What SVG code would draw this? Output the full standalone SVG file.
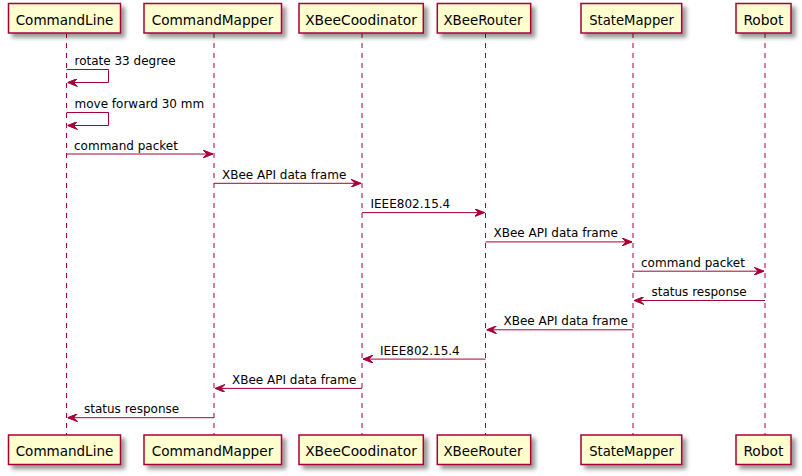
<svg xmlns="http://www.w3.org/2000/svg" width="802" height="476" viewBox="0 0 802 476">
<style>
.box{fill:#FEFECE;stroke:#A80036;stroke-width:1.5;filter:url(#sh)}
.life{stroke:#A80036;stroke-width:1;stroke-dasharray:5,5;fill:none}
.pt{font-family:"DejaVu Sans",sans-serif;font-size:13.5px;fill:#000;text-anchor:middle}
.msg{stroke:#A80036;stroke-width:1;fill:none;marker-end:url(#ah)}
.mt{font-family:"DejaVu Sans",sans-serif;font-size:12px;fill:#000}
</style>
<defs>
<filter id="sh" x="-10%" y="-20%" width="130%" height="160%">
<feGaussianBlur in="SourceAlpha" stdDeviation="2"/>
<feColorMatrix type="matrix" values="0 0 0 0 0 0 0 0 0 0 0 0 0 0 0 0 0 0 0.4 0"/>
<feOffset dx="4" dy="4" result="s"/>
<feMerge><feMergeNode in="s"/><feMergeNode in="SourceGraphic"/></feMerge>
</filter>
<marker id="ah" viewBox="0 0 10 8" refX="10" refY="4" markerWidth="10" markerHeight="8" markerUnits="userSpaceOnUse" orient="auto">
<path d="M0,0 L10,4 L0,8 L4,4 Z" fill="#A80036" stroke="#A80036" stroke-width="1"/>
</marker>
</defs>
<g id="CommandLine">
<line class="life" x1="66.5" y1="33" x2="66.5" y2="435"/>
<rect class="box" x="8.5" y="3.5" width="112" height="29.5"/>
<text class="pt" x="64.5" y="24.5" textLength="97.6" lengthAdjust="spacingAndGlyphs">CommandLine</text>
<rect class="box" x="8.5" y="435" width="112" height="29.5"/>
<text class="pt" x="64.5" y="456" textLength="97.6" lengthAdjust="spacingAndGlyphs">CommandLine</text>
</g>
<g id="CommandMapper">
<line class="life" x1="214" y1="33" x2="214" y2="435"/>
<rect class="box" x="144" y="3.5" width="137.5" height="29.5"/>
<text class="pt" x="212.5" y="24.5" textLength="121.6" lengthAdjust="spacingAndGlyphs">CommandMapper</text>
<rect class="box" x="144" y="435" width="137.5" height="29.5"/>
<text class="pt" x="212.5" y="456" textLength="121.6" lengthAdjust="spacingAndGlyphs">CommandMapper</text>
</g>
<g id="XBeeCoodinator">
<line class="life" x1="362" y1="33" x2="362" y2="435"/>
<rect class="box" x="299" y="3.5" width="124.3" height="29.5"/>
<text class="pt" x="361" y="24.5" textLength="111.7" lengthAdjust="spacingAndGlyphs">XBeeCoodinator</text>
<rect class="box" x="299" y="435" width="124.3" height="29.5"/>
<text class="pt" x="361" y="456" textLength="111.7" lengthAdjust="spacingAndGlyphs">XBeeCoodinator</text>
</g>
<g id="XBeeRouter">
<line class="life" x1="485.5" y1="33" x2="485.5" y2="435"/>
<rect class="box" x="437.3" y="3.5" width="93.4" height="29.5"/>
<text class="pt" x="482.9" y="24.5" textLength="79" lengthAdjust="spacingAndGlyphs">XBeeRouter</text>
<rect class="box" x="437.3" y="435" width="93.4" height="29.5"/>
<text class="pt" x="482.9" y="456" textLength="79" lengthAdjust="spacingAndGlyphs">XBeeRouter</text>
</g>
<g id="StateMapper">
<line class="life" x1="633" y1="33" x2="633" y2="435"/>
<rect class="box" x="581" y="3.5" width="100.7" height="29.5"/>
<text class="pt" x="631.5" y="24.5" textLength="84.7" lengthAdjust="spacingAndGlyphs">StateMapper</text>
<rect class="box" x="581" y="435" width="100.7" height="29.5"/>
<text class="pt" x="631.5" y="456" textLength="84.7" lengthAdjust="spacingAndGlyphs">StateMapper</text>
</g>
<g id="Robot">
<line class="life" x1="765" y1="33" x2="765" y2="435"/>
<rect class="box" x="736" y="3.5" width="55" height="29.5"/>
<text class="pt" x="763.4" y="24.5" textLength="40" lengthAdjust="spacingAndGlyphs">Robot</text>
<rect class="box" x="736" y="435" width="55" height="29.5"/>
<text class="pt" x="763.4" y="456" textLength="40" lengthAdjust="spacingAndGlyphs">Robot</text>
</g>
<g id="connectors">
<path class="msg" d="M66.5,69.5 H108.5 V82.5 H67.5"/>
<text class="mt" x="74.5" y="65">rotate 33 degree</text>
<path class="msg" d="M66.5,112.5 H108.5 V125.5 H67.5"/>
<text class="mt" x="74.5" y="108">move forward 30 mm</text>
<path class="msg" d="M66.5,154 H213"/>
<text class="mt" x="74" y="149.5">command packet</text>
<path class="msg" d="M214,183.3 H361"/>
<text class="mt" x="222" y="178.8">XBee API data frame</text>
<path class="msg" d="M362,212.6 H484.5"/>
<text class="mt" x="370.5" y="208.1">IEEE802.15.4</text>
<path class="msg" d="M485.5,241.9 H632"/>
<text class="mt" x="493.5" y="237.4">XBee API data frame</text>
<path class="msg" d="M633,271.2 H764"/>
<text class="mt" x="641" y="266.7">command packet</text>
<path class="msg" d="M765,300.5 H634"/>
<text class="mt" x="651.5" y="296">status response</text>
<path class="msg" d="M633,329.8 H486.5"/>
<text class="mt" x="503.5" y="325.3">XBee API data frame</text>
<path class="msg" d="M485.5,359.1 H363"/>
<text class="mt" x="380" y="354.6">IEEE802.15.4</text>
<path class="msg" d="M362,388.4 H215"/>
<text class="mt" x="232" y="383.9">XBee API data frame</text>
<path class="msg" d="M214,417.7 H67.5"/>
<text class="mt" x="84" y="413.2">status response</text>
</g>
</svg>
